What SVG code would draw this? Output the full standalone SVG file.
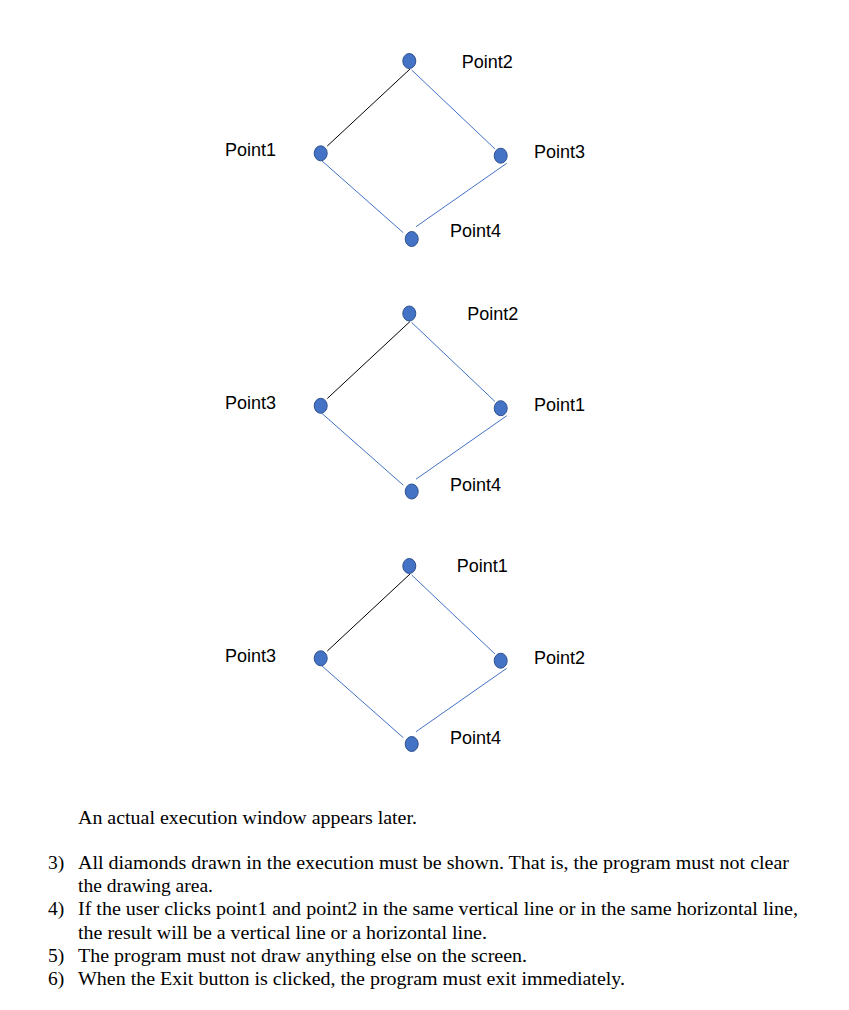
<svg xmlns="http://www.w3.org/2000/svg" width="849" height="1010" viewBox="0 0 849 1010">
<style>
.dot{fill:#4472C4;stroke:#2F528F;stroke-width:1}
.bl{stroke:#4472C4;stroke-width:1;fill:none}
.bk{stroke:#000;stroke-width:1;fill:none}
.lbl{font-family:"Liberation Sans",Arial,sans-serif;font-size:18px;fill:#000}
.txt{font-family:"Liberation Serif","Times New Roman",serif;font-size:19.5px;fill:#000}
</style>
<rect width="849" height="1010" fill="#fff"/>
<defs>
<g id="shape">
<line class="bk" x1="410" y1="69" x2="327.3" y2="146"/>
<line class="bl" x1="411.7" y1="70" x2="495" y2="149"/>
<line class="bl" x1="321.7" y1="160.7" x2="403.3" y2="232.7"/>
<line class="bl" x1="506.7" y1="163.3" x2="416" y2="226.7"/>
</g>
</defs>
<g id="connectors">
<use href="#shape"/>
<use href="#shape" transform="translate(0,252.5)"/>
<use href="#shape" transform="translate(0,505)"/>
</g>
<g id="diamond1">
<ellipse class="dot" cx="409.3" cy="61" rx="6.5" ry="7.5"/>
<ellipse class="dot" cx="320.7" cy="153.3" rx="6.5" ry="7.5"/>
<ellipse class="dot" cx="500.7" cy="155.7" rx="6.5" ry="7.5"/>
<ellipse class="dot" cx="411.7" cy="239" rx="6.5" ry="7.5"/>
<text class="lbl" x="461.7" y="68.3">Point2</text>
<text class="lbl" x="225" y="155.7">Point1</text>
<text class="lbl" x="534" y="158.3">Point3</text>
<text class="lbl" x="450" y="237.3">Point4</text>
</g>
<g id="diamond2" transform="translate(0,252.5)">
<ellipse class="dot" cx="409.3" cy="61" rx="6.5" ry="7.5"/>
<ellipse class="dot" cx="320.7" cy="153.3" rx="6.5" ry="7.5"/>
<ellipse class="dot" cx="500.7" cy="155.7" rx="6.5" ry="7.5"/>
<ellipse class="dot" cx="411.7" cy="239" rx="6.5" ry="7.5"/>
<text class="lbl" x="467.3" y="67.5">Point2</text>
<text class="lbl" x="225" y="156.5">Point3</text>
<text class="lbl" x="534" y="158.2">Point1</text>
<text class="lbl" x="450" y="238.5">Point4</text>
</g>
<g id="diamond3" transform="translate(0,505)">
<ellipse class="dot" cx="409.3" cy="61" rx="6.5" ry="7.5"/>
<ellipse class="dot" cx="320.7" cy="153.3" rx="6.5" ry="7.5"/>
<ellipse class="dot" cx="500.7" cy="155.7" rx="6.5" ry="7.5"/>
<ellipse class="dot" cx="411.7" cy="239" rx="6.5" ry="7.5"/>
<text class="lbl" x="456.7" y="67.3">Point1</text>
<text class="lbl" x="225" y="157">Point3</text>
<text class="lbl" x="534" y="158.7">Point2</text>
<text class="lbl" x="450" y="239">Point4</text>
</g>
<g id="notes">
<text class="txt" x="78" y="824" textLength="339" lengthAdjust="spacingAndGlyphs">An actual execution window appears later.</text>
<text class="txt" x="48" y="869">3)</text>
<text class="txt" x="78" y="869" textLength="711" lengthAdjust="spacingAndGlyphs">All diamonds drawn in the execution must be shown. That is, the program must not clear</text>
<text class="txt" x="78" y="892" textLength="135" lengthAdjust="spacingAndGlyphs">the drawing area.</text>
<text class="txt" x="48" y="915">4)</text>
<text class="txt" x="78" y="915" textLength="720" lengthAdjust="spacingAndGlyphs">If the user clicks point1 and point2 in the same vertical line or in the same horizontal line,</text>
<text class="txt" x="78" y="939" textLength="409" lengthAdjust="spacingAndGlyphs">the result will be a vertical line or a horizontal line.</text>
<text class="txt" x="48" y="962">5)</text>
<text class="txt" x="78" y="962" textLength="449" lengthAdjust="spacingAndGlyphs">The program must not draw anything else on the screen.</text>
<text class="txt" x="48" y="985">6)</text>
<text class="txt" x="78" y="985" textLength="547" lengthAdjust="spacingAndGlyphs">When the Exit button is clicked, the program must exit immediately.</text>
</g>
</svg>
